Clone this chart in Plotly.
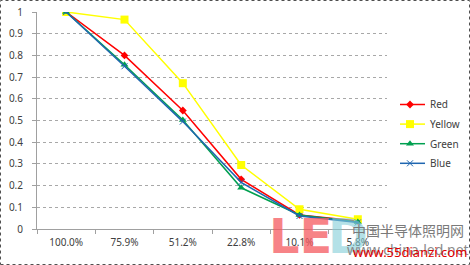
import plotly.graph_objects as go

categories = ["100.0%", "75.9%", "51.2%", "22.8%", "10.1%", "5.8%"]
red = [1.0, 0.80, 0.546, 0.229, 0.065, 0.037]
yellow = [1.0, 0.965, 0.672, 0.295, 0.091, 0.045]
green = [1.0, 0.757, 0.502, 0.19, 0.065, 0.032]
blue = [1.0, 0.75, 0.495, 0.215, 0.06, 0.03]
y_ticks = [0, 0.1, 0.2, 0.3, 0.4, 0.5, 0.6, 0.7, 0.8, 0.9, 1]
y_tick_labels = ["0", "0.1", "0.2", "0.3", "0.4", "0.5", "0.6", "0.7", "0.8", "0.9", "1"]

W, H = 470, 265
ML, MR, MT, MB = 37, 83, 12, 36
PW, PH = W - ML - MR, H - MT - MB


def px(x):
    return (x - ML) / PW


def py(y):
    return 1 - (y - MT) / PH


fig = go.Figure()
series = [
    ("Red", red, "#FF0000", dict(symbol="diamond", size=6, color="#FF0000")),
    ("Yellow", yellow, "#FFFF00", dict(symbol="square", size=8, color="#FFFF00")),
    ("Green", green, "#00A050", dict(symbol="triangle-up", size=7, color="#00A050")),
    ("Blue", blue, "#1F66B0", dict(symbol="x-thin", size=6, color="#1F66B0",
                                     line=dict(width=1, color="#1F66B0"))),
]
for name, vals, col, mk in series:
    fig.add_trace(go.Scatter(x=categories, y=vals, name=name, mode="lines+markers",
                             legendgroup=name,
                             line=dict(color=col, width=1.5), marker=mk))

font_main = "Noto Sans"
fig.update_layout(
    width=W, height=H,
    margin=dict(l=ML, r=MR, t=MT, b=MB, autoexpand=False),
    paper_bgcolor="white", plot_bgcolor="white",
    font=dict(family=font_main, size=10, color="#404040"),
    showlegend=True,
    legend=dict(x=px(400), y=py(90), xanchor="left", yanchor="top",
                font=dict(size=10, color="#404040"), bgcolor="rgba(0,0,0,0)",
                tracegroupgap=0.6, itemwidth=30, indentation=-10),
    xaxis=dict(type="category", showgrid=False, showline=True, linecolor="#A0A0A0",
               linewidth=1, ticks="outside", tickson="boundaries", ticklen=4,
               tickcolor="#A0A0A0", tickfont=dict(size=10, color="#404040"),
               ticklabelstandoff=4,
               range=[-0.5, 5.5], fixedrange=True, zeroline=False),
    yaxis=dict(range=[0, 1], tickvals=y_ticks, ticktext=y_tick_labels,
               showgrid=True, gridcolor="#A8A8A8", griddash="dot", gridwidth=1,
               showline=True, linecolor="#A0A0A0", linewidth=1,
               ticks="outside", ticklen=4, tickcolor="#A0A0A0",
               ticklabelstandoff=7,
               tickfont=dict(size=10, color="#404040"), zeroline=False),
)

# Outer dotted border of the chart
fig.add_shape(type="rect", xref="paper", yref="paper",
              x0=px(0.5), x1=px(W - 0.5), y0=py(H - 0.5), y1=py(0.5),
              line=dict(color="#505050", width=1, dash="dot"), layer="above")

# Watermark
def wm(x, y, text, family, size, color):
    fig.add_annotation(x=px(x), y=py(y), xref="paper", yref="paper", text=text,
                       xanchor="center", yanchor="middle", showarrow=False,
                       font=dict(family=family, size=size, color=color))


wm(300, 236, "<b>LE</b>", "DejaVu Sans", 48, "rgba(245,90,95,0.75)")
wm(348, 236, "<b>D</b>", "DejaVu Sans", 48, "rgba(130,205,215,0.6)")
wm(408, 230, "中国半导体照明网", "Noto Sans CJK SC", 14, "#7A7A7A")
wm(408, 250, "www.china-led.net", "Noto Sans", 14, "#8A8A8A")
wm(410, 252, "www.55dianzi.com", "Noto Sans", 13, "#E00000")

fig.write_html("out.html")
